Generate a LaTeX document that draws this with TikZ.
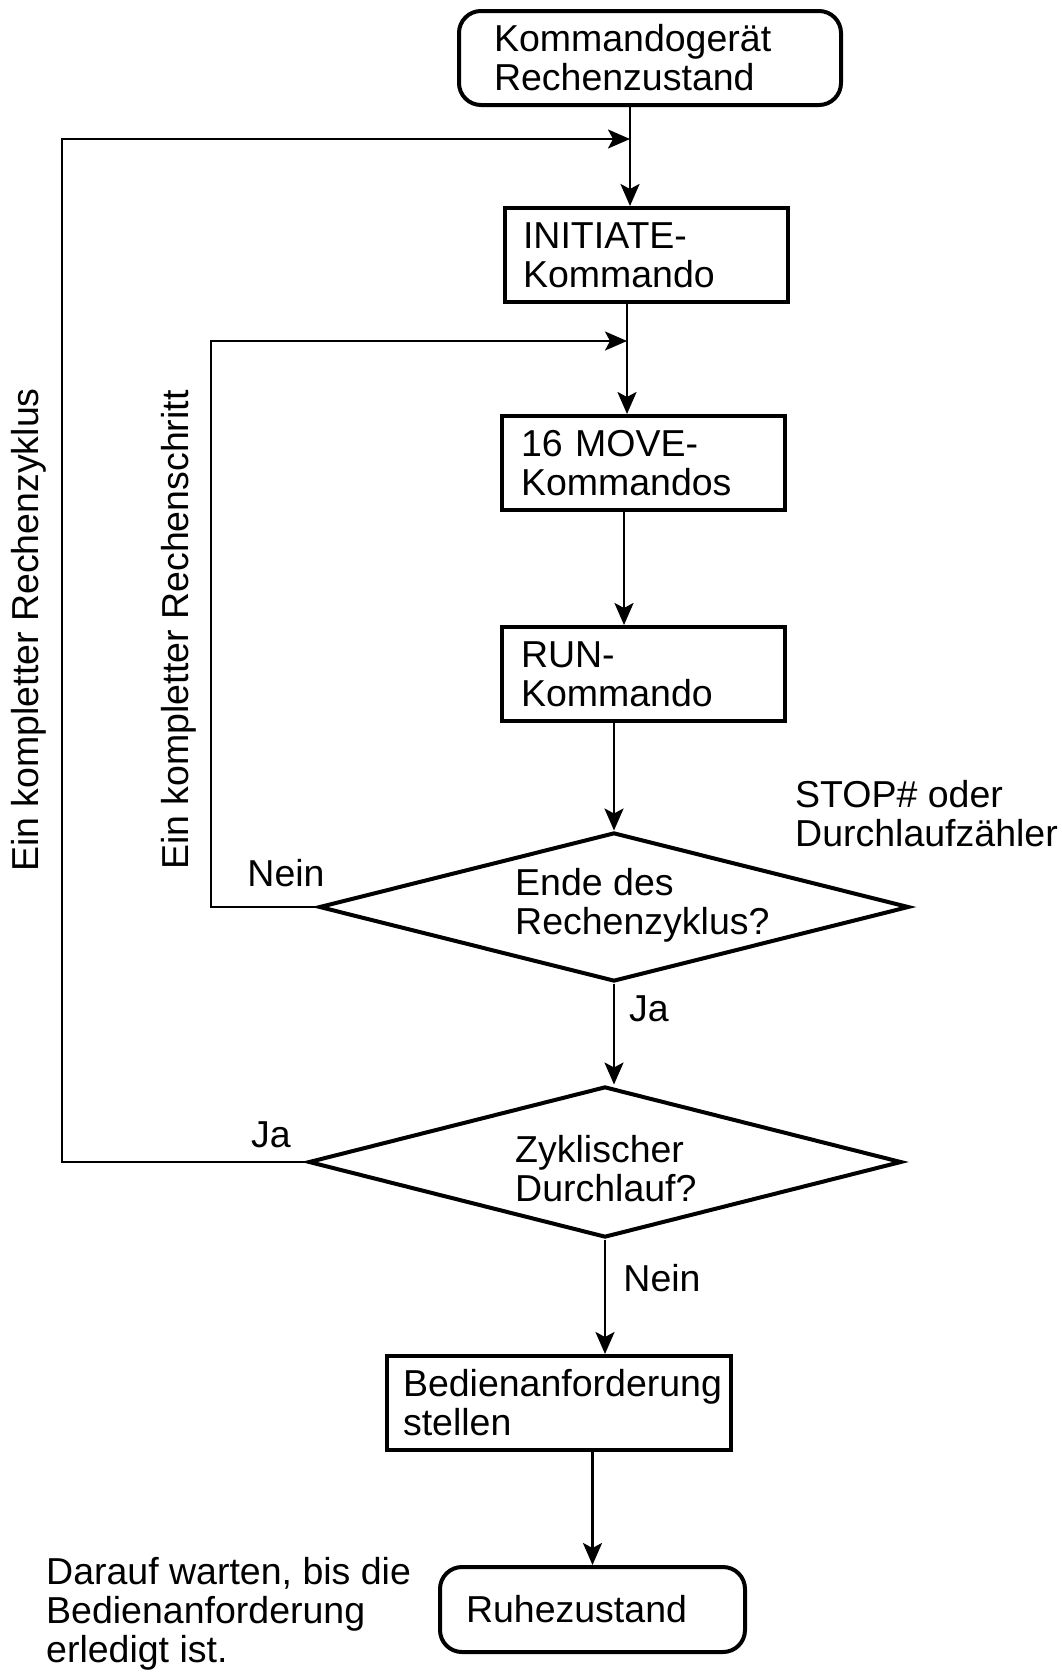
\documentclass[tikz,border=0pt]{standalone}
\usepackage{fontspec}
\setmainfont{Liberation Sans}
\usetikzlibrary{shapes.geometric, arrows.meta, positioning, calc}
\newcommand{\chartfont}{\fontsize{37.5}{39}\selectfont}
\tikzset{
  state/.style={rectangle, rounded corners=22pt, draw=black, line width=4pt, align=left, font=\chartfont},
  command/.style={rectangle, draw=black, line width=4pt, align=left, font=\chartfont},
  decision/.style={diamond, draw=black, line width=4pt, inner sep=0pt},
  txt/.style={align=left, font=\chartfont, inner sep=0pt},
  flow/.style={line width=2.8pt, -{Stealth[length=22pt, width=19pt, inset=5pt]}},
  back/.style={line width=2.2pt, -{Stealth[length=22pt, width=19pt, inset=5pt]}}
}

\begin{document}
\begin{tikzpicture}[x=1pt, y=-1pt]
    \useasboundingbox (0,0) rectangle (1061,1673);

    % Ablauf von oben nach unten
    \node[state, minimum width=382pt, minimum height=94pt, inner xsep=35pt, text width=312pt] (start) at (650,58) {Kommandoger\"at\\Rechenzustand};
    \node[command, minimum width=283pt, minimum height=94pt, inner xsep=18pt, text width=247pt] (initiate) at (646.5,255) {INITIATE-\\Kommando};
    \node[command, minimum width=283pt, minimum height=94pt, inner xsep=19pt, text width=245pt] (move) at (643.5,463) {16 MOVE-\\Kommandos};
    \node[command, minimum width=283pt, minimum height=94pt, inner xsep=19pt, text width=245pt] (run) at (643.5,674) {RUN-\\Kommando};

    % Abfragen
    \node[decision, minimum width=590pt, minimum height=149pt] (endcycle) at (614,907) {};
    \node[txt, anchor=west] (endcycletext) at (515,905) {Ende des\\Rechenzyklus?};
    \node[decision, minimum width=593pt, minimum height=151pt] (cyclic) at (605,1162) {};
    \node[txt, anchor=west] (cyclictext) at (515,1169) {Zyklischer\\Durchlauf?};

    \node[command, minimum width=344pt, minimum height=94pt, inner xsep=16pt, text width=312pt] (request) at (559,1403) {Bedienanforderung\\stellen};
    \node[state, minimum width=305pt, minimum height=85pt, inner xsep=26pt, text width=253pt] (idle) at (592.5,1609.5) {Ruhezustand};

    % Einmuendungen der Rueckfuehrungen
    \coordinate (join1) at (630,139);
    \coordinate (join2) at (627,341);
    \coordinate (cyclex) at (62,139);
    \coordinate (stepx) at (211,341);

    % Verbindungen
    \draw[flow] (start.south -| join1) -- (initiate.north -| join1);
    \draw[flow] (initiate.south -| join2) -- (move.north -| join2);
    \draw[flow] ([xshift=-19.5pt]move.south) -- ([xshift=-19.5pt]run.north);
    \draw[flow] (run.south -| endcycle.north) -- (endcycle.north);
    \draw[flow] (endcycle.south) -- (endcycle.south |- cyclic.north);
    \draw[flow] (cyclic.south) -- (cyclic.south |- request.north);
    \draw[flow] (request.south -| idle.north) -- (idle.north);

    % Schleifen
    \draw[back] (endcycle.west) -| (stepx) -- (join2);
    \draw[back] (cyclic.west) -| (cyclex) -- (join1);

    % Beschriftungen
    \node[txt] (nein1) at (286,873) {Nein};
    \node[txt] (ja1) at (649,1009) {Ja};
    \node[txt] (ja2) at (271,1135) {Ja};
    \node[txt] (nein2) at (662,1278) {Nein};
    \node[txt, anchor=west] (stopnote) at (795,814) {STOP\# oder\\Durchlaufz\"ahler};
    \node[txt, anchor=west] (waitnote) at (46,1614) {Darauf warten, bis die\\Bedienanforderung\\erledigt ist.};
    \node[txt, rotate=90] (cyclelabel) at (29,630) {Ein kompletter Rechenzyklus};
    \node[txt, rotate=90] (steplabel) at (179,630) {Ein kompletter Rechenschritt};
\end{tikzpicture}
\end{document}
